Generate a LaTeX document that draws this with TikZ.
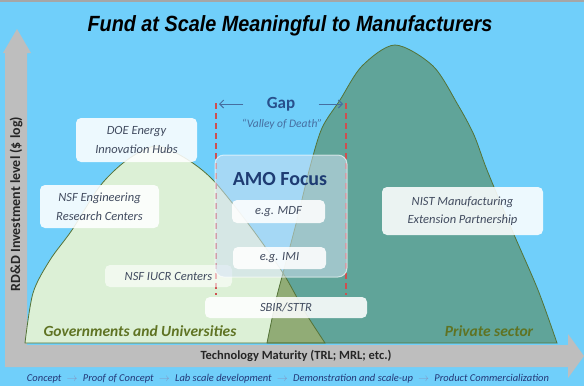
\documentclass[tikz,border=0pt]{standalone}
\usepackage{fontspec}
\setmainfont{Carlito}
\newfontfamily\titlefont{Liberation Sans}
\usetikzlibrary{arrows.meta}
\definecolor{skyblue}{RGB}{112,207,250}
\definecolor{axisgrey}{RGB}{190,190,190}
\definecolor{govgreen}{RGB}{220,240,214}
\definecolor{privteal}{RGB}{96,164,153}
\definecolor{overlapolive}{RGB}{145,172,118}
\definecolor{belledge}{RGB}{85,115,55}
\definecolor{sectortext}{RGB}{95,115,35}
\definecolor{boxtext}{RGB}{65,75,95}
\definecolor{gapblue}{RGB}{40,80,140}
\definecolor{valleyblue}{RGB}{70,110,160}
\definecolor{gapred}{RGB}{205,80,80}
\definecolor{amoblue}{RGB}{30,60,115}
\definecolor{amofill}{RGB}{210,225,242}
\definecolor{stagetext}{RGB}{35,55,120}
\definecolor{stagearrow}{RGB}{130,150,195}
\newcommand{\stagesep}{\enspace{\color{stagearrow}$\rightarrow$}\enspace}
\def\leftbell{plot[smooth] coordinates {(25,343) (33,293) (50,260) (72,230) (100,186) (127,160) (156,146) (185,158) (213,180) (250,226) (283,273) (305,312) (325,343)}}
\def\rightbell{plot[smooth] coordinates {(267,343) (276,300) (283,273) (297,220) (310,167) (322,128) (340,100) (362,66) (395,45) (433,66) (458,105) (474,135) (487,170) (512,230) (538,290) (557,343)}}

\begin{document}
\begin{tikzpicture}[x=1pt, y=-1pt,
    fundbox/.style={fill=white, fill opacity=0.88, text opacity=1, rounded corners=5pt,
        text=boxtext, font=\itshape\fontsize{12.5}{18.5}\selectfont, align=center, inner sep=0pt},
    amobox/.style={fill=amofill, fill opacity=0.55, draw=white, draw opacity=0.6,
        line width=1pt, rounded corners=9pt, inner sep=0pt},
    sectorlabel/.style={text=sectortext, font=\bfseries\itshape\fontsize{15.5}{18}\selectfont},
    axislabel/.style={text=black!85, font=\bfseries\fontsize{12.5}{14}\selectfont},
    gapline/.style={gapred, line width=1.2pt, dash pattern=on 6pt off 4pt},
    gaparrow/.style={valleyblue, line width=1pt, -{Straight Barb[length=4pt, width=8pt]}},
    bell/.style={draw=belledge, line width=0.8pt}]
    \useasboundingbox (0,0) rectangle (584,386);
    \fill[skyblue] (0,0) rectangle (584,386);
    \fill[gray!70] (0,0) rectangle (584,2);
    % Title
    \node[font=\titlefont\bfseries\itshape\fontsize{22}{26}\selectfont] (title) at (290,26)
        {\scalebox{0.9}[1]{Fund at Scale Meaningful to Manufacturers}};
    % Axes
    \fill[axisgrey] (5,367) -- (5,53) -- (3,53) -- (17,29) -- (31,53) -- (27,53)
        -- (27,345) -- (568,345) -- (568,334) -- (584,356) -- (568,378) -- (568,367) -- cycle;
    \node[axislabel, rotate=90, font=\bfseries\fontsize{14}{16}\selectfont] (ylabel) at (16,204)
        {RD\&D Investment level (\$ log)};
    \node[axislabel] (xlabel) at (296,356) {Technology Maturity (TRL; MRL; etc.)};
    \node[text=stagetext, font=\itshape\fontsize{10.5}{12}\selectfont] (stages) at (288,379)
        {Concept\stagesep Proof of Concept\stagesep Lab scale development\stagesep
         Demonstration and scale-up\stagesep Product Commercialization};
    % Bells
    \fill[govgreen] \leftbell -- cycle;
    \fill[privteal] \rightbell -- cycle;
    \begin{scope}
        \clip \rightbell -- cycle;
        \fill[overlapolive] \leftbell -- cycle;
    \end{scope}
    \draw[bell] \leftbell -- cycle;
    \draw[bell] \rightbell -- cycle;
    \node[sectorlabel] (gov) at (140,331) {Governments and Universities};
    \node[sectorlabel] (priv) at (489,331) {Private sector};
    % Gap
    \coordinate (gapLtop) at (216,103);
    \coordinate (gapLbot) at (216,295);
    \coordinate (gapRtop) at (346,103);
    \coordinate (gapRbot) at (346,295);
    \draw[gapline] (gapLtop) -- (gapLbot);
    \draw[gapline] (gapRtop) -- (gapRbot);
    \node[text=gapblue, font=\bfseries\fontsize{17}{20}\selectfont] (gap) at (281,104) {Gap};
    \node[text=valleyblue, font=\itshape\fontsize{11.5}{13}\selectfont] (valley) at (282,124)
        {``Valley of Death''};
    \draw[gaparrow] ([xshift=-20pt]gap.west) -- ([xshift=3pt]gapLtop |- gap.west);
    \draw[gaparrow] ([xshift=20pt]gap.east) -- ([xshift=-3pt]gapRtop |- gap.east);
    % Programs
    \node[fundbox, minimum width=121pt, minimum height=44pt] (doe) at (136.5,140)
        {DOE Energy\\Innovation Hubs};
    \node[fundbox, minimum width=119pt, minimum height=43pt] (erc) at (99.5,206.5)
        {NSF Engineering\\Research Centers};
    \node[fundbox, fill opacity=0.6, minimum width=127pt, minimum height=22pt] (iucr) at (168.5,276)
        {NSF IUCR Centers};
    \node[amobox, minimum width=132pt, minimum height=122pt] (amo) at (281,216) {};
    \node[text=amoblue, font=\bfseries\fontsize{20}{24}\selectfont] (amotitle) at (280,179) {AMO Focus};
    \node[fundbox, minimum width=93pt, minimum height=23pt] (mdf) at (278.5,211.5) {e.g. MDF};
    \node[fundbox, minimum width=93pt, minimum height=22pt] (imi) at (279.5,258) {e.g. IMI};
    \node[fundbox, minimum width=162pt, minimum height=21pt] (sbir) at (286,307.5) {SBIR/STTR};
    \node[fundbox, minimum width=161pt, minimum height=48pt] (nist) at (462.5,211)
        {NIST Manufacturing\\Extension Partnership};
\end{tikzpicture}
\end{document}
